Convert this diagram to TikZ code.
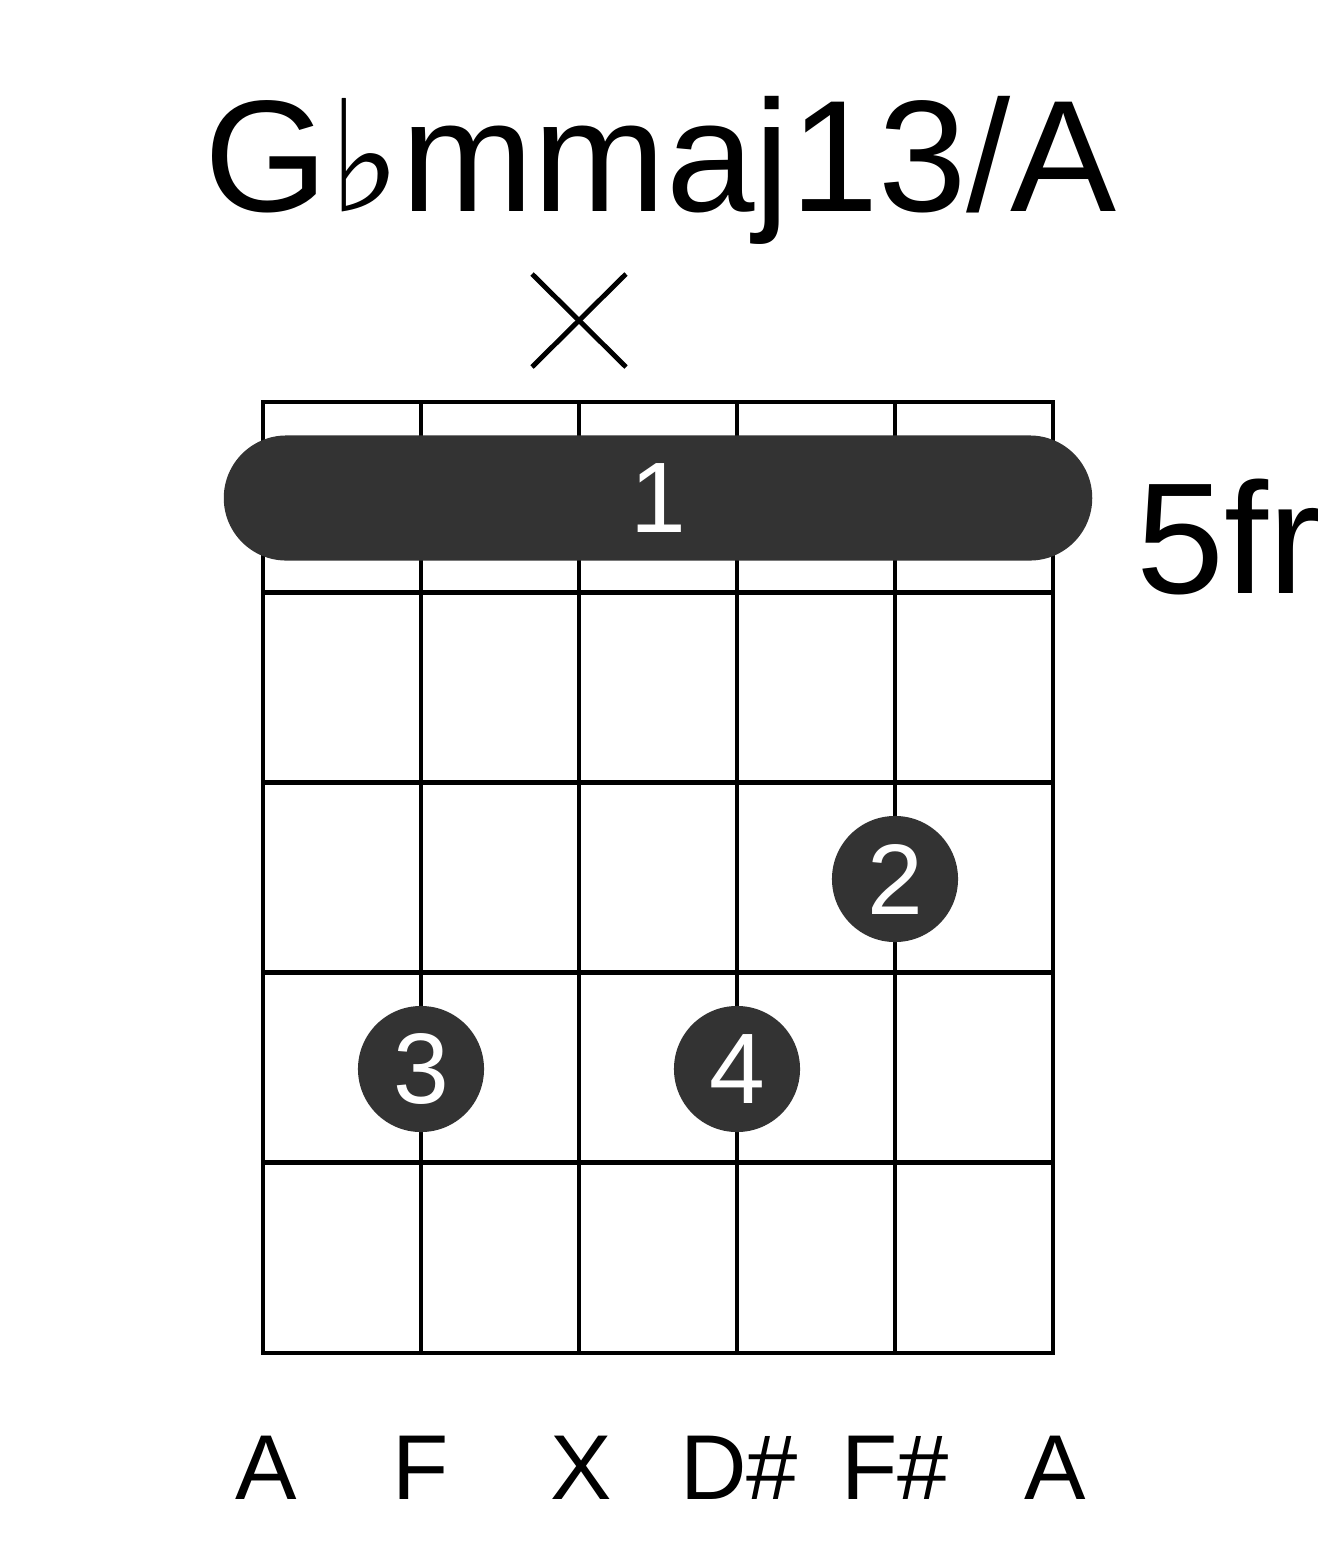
\documentclass[tikz,border=0pt]{standalone}
\usepackage{fontspec}
\setmainfont{Liberation Sans}
\newfontfamily\flatfont{DejaVu Sans}
\usetikzlibrary{positioning}
\definecolor{dotgray}{HTML}{333333}

\begin{document}
\begin{tikzpicture}[x=0.01cm, y=-0.01cm, line width=1.4pt,
  fingerdot/.style={circle, fill=dotgray, minimum size=1.26cm, inner sep=0pt,
    text=white, font=\fontsize{28.5}{30}\selectfont},
  notelabel/.style={anchor=base, inner sep=0pt, font=\fontsize{26.2}{28}\selectfont}]

\useasboundingbox (0,0) rectangle (1317,1551);

% Title
\node[anchor=base, inner sep=0pt, font=\fontsize{45.2}{50}\selectfont] (title) at (661,211)
  {G{\flatfont\fontsize{44}{48}\selectfont ♭}mmaj13/A};

% Muted string
\coordinate (mutea) at (532,274);
\coordinate (muteb) at (626,367);
\coordinate (mutec) at (532,367);
\coordinate (muted) at (626,274);
\draw (mutea) -- (muteb);
\draw (mutec) -- (muted);

% =========== Grid ===========
\foreach \s in {1,...,4} {
  \draw (263+158*\s,402) -- (263+158*\s,1353);
}
\foreach \f in {1,...,4} {
  \draw (263,402+190.2*\f) -- (1053,402+190.2*\f);
}
\draw (263,402) rectangle (1053,1353);

% Barre
\node[fill=dotgray, rounded corners=0.625cm, minimum width=8.68cm, minimum height=1.25cm,
      inner sep=0pt, text=white, font=\fontsize{28.5}{30}\selectfont] (barre) at (658,498) {1};

% Fret number
\node[anchor=base west, inner sep=0pt, font=\fontsize{45}{48}\selectfont] (fretnum) at (1134,593) {5fr};

% Fingers
\node[fingerdot] (fing2) at (895,879) {2};
\node[fingerdot] (fing3) at (421,1069) {3};
\node[fingerdot] (fing4) at (737,1069) {4};

% Notes
\node[notelabel] (note1) at (266,1499) {A};
\node[notelabel] (note2) at (421,1499) {F};
\node[notelabel] (note3) at (581,1499) {X};
\node[notelabel] (note4) at (739,1499) {D\#};
\node[notelabel] (note5) at (895,1499) {F\#};
\node[notelabel] (note6) at (1055,1499) {A};

\end{tikzpicture}
\end{document}
